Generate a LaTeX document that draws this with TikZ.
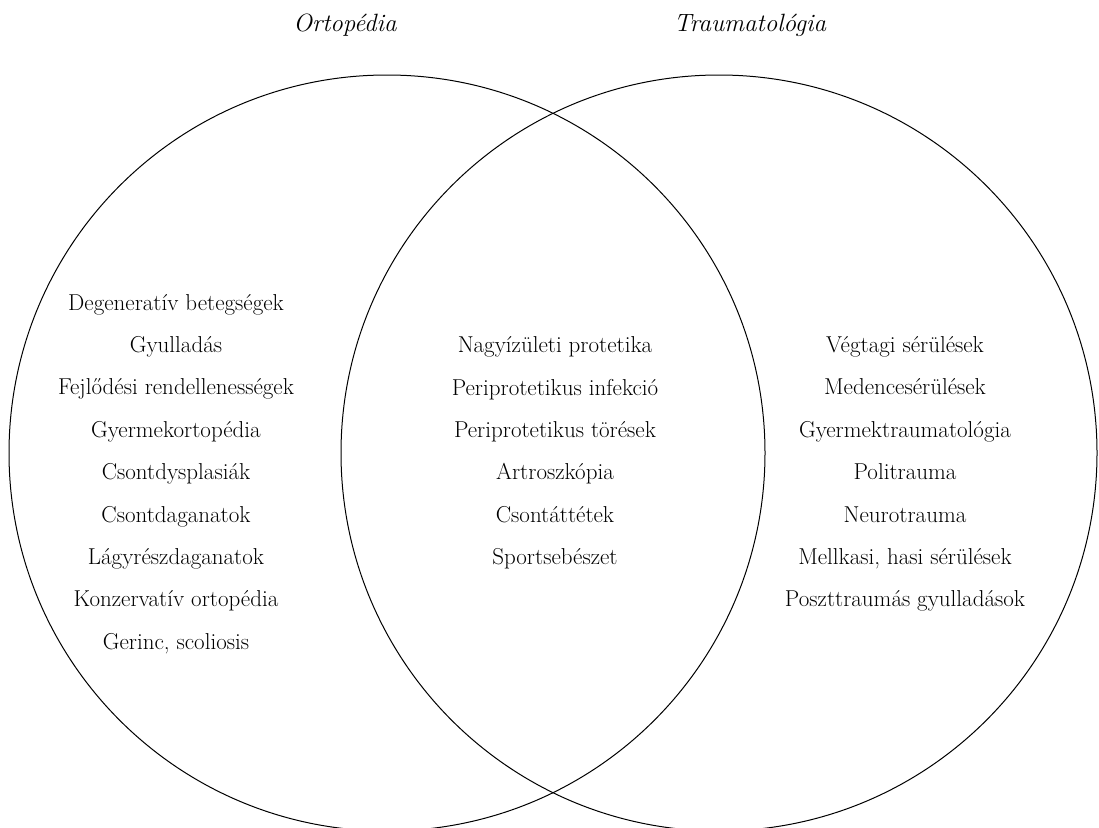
\documentclass[tikz,border=0pt]{standalone}
\usepackage{tikz}
\usetikzlibrary{positioning}

\begin{document}
\begin{tikzpicture}[
  x=1pt, y=-1pt,
  set/.style={circle, draw, line width=1pt, minimum size=756pt, inner sep=0pt},
  title/.style={font=\fontsize{25}{30}\selectfont\itshape, anchor=base},
  items/.style={align=center, font=\fontsize{23}{42.4}\selectfont}
]
\useasboundingbox (0,0) rectangle (1099,827);

\node[set] (orto) at (387,453) {};
\node[set] (trauma) at (719,453) {};

\node[title] (orto_title) at (345,31) {Ortopédia};
\node[title] (trauma_title) at (750,31) {Traumatológia};

\node[items] (orto_list) at (176,474) {Degeneratív betegségek\\
  Gyulladás\\ Fejlődési rendellenességek\\ Gyermekortopédia\\
  Csontdysplasiák\\ Csontdaganatok\\ Lágyrészdaganatok\\
  Konzervatív ortopédia\\ Gerinc, scoliosis};
\node[items] (common_list) at (555,453) {Nagyízületi protetika\\
  Periprotetikus infekció\\ Periprotetikus törések\\ Artroszkópia\\
  Csontáttétek\\ Sportsebészet};
\node[items] (trauma_list) at (905,474) {Végtagi sérülések\\
  Medencesérülések\\ Gyermektraumatológia\\ Politrauma\\
  Neurotrauma\\ Mellkasi, hasi sérülések\\ Poszttraumás gyulladások};

\end{tikzpicture}
\end{document}
